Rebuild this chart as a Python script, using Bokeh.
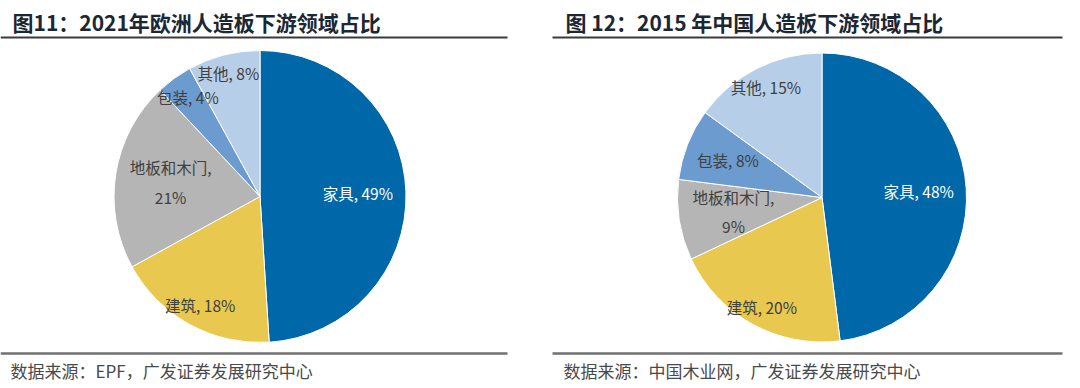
import math
from bokeh.plotting import figure
from bokeh.models import Range1d
from bokeh.core.properties import value
from bokeh.embed import file_html
from bokeh.resources import INLINE

# ---- data ----
categories = ["家具", "建筑", "地板和木门", "包装", "其他"]
eu_2021 = [49, 18, 21, 4, 8]
cn_2015 = [48, 20, 9, 8, 15]
titles = ["图11：2021年欧洲人造板下游领域占比", "图 12：2015 年中国人造板下游领域占比"]
sources = ["数据来源：EPF，广发证券发展研究中心", "数据来源：中国木业网，广发证券发展研究中心"]

# ---- styles / layout (pixel space of the page) ----
colors = ["#0068A8", "#E8C84F", "#B5B5B5", "#6B9BCF", "#B7CEE8"]
label_colors = ["white", "#404040", "#404040", "#404040", "#404040"]
FONT = "Noto Sans CJK SC"
W, H = 1072, 388
PAGE_H = 388

def py(y):  # convert screenshot pixel y to data y
    return PAGE_H - y

p = figure(width=W, height=H, output_backend="svg", toolbar_location=None,
           x_range=Range1d(0, W), y_range=Range1d(PAGE_H - H, PAGE_H),
           min_border=0)
p.axis.visible = False
p.grid.visible = False
p.outline_line_color = None
p.background_fill_color = "white"
p.border_fill_color = "white"

panels = [
    dict(vals=eu_2021, cx=259.5, cy=196, r=146, frac=[0.67, 0.85, 0.62, 0.84, 0.87],
         tx=12, rule=(0, 507)),
    dict(vals=cn_2015, cx=821.5, cy=197, r=144.5, frac=[0.67, 0.865, 0.62, 0.70, 0.855],
         tx=565, rule=(552, 1062)),
]

for i, pan in enumerate(panels):
    vals = pan["vals"]
    tot = float(sum(vals))
    starts, ends, lx, ly, texts = [], [], [], [], []
    cum = 0.0
    for j, v in enumerate(vals):
        a0 = math.pi / 2 - cum / tot * 2 * math.pi
        cum += v
        a1 = math.pi / 2 - cum / tot * 2 * math.pi
        starts.append(a0)
        ends.append(a1)
        mid = (a0 + a1) / 2
        rr = pan["r"] * pan["frac"][j]
        lx.append(pan["cx"] + rr * math.cos(mid))
        ly.append(py(pan["cy"]) + rr * math.sin(mid))
        name = categories[j]
        if name == "地板和木门":
            texts.append(f"{name},\n{v}%")
        else:
            texts.append(f"{name}, {v}%")
    p.wedge(x=pan["cx"], y=py(pan["cy"]), radius=pan["r"], start_angle=starts, end_angle=ends,
            direction="clock", fill_color=colors, line_color="white", line_width=1)
    p.text(x=lx, y=ly, text=texts, text_align="center", text_baseline="middle",
           text_font=value(FONT), text_font_size="15.5px", text_color=label_colors,
           text_line_height=1.35)
    # title
    p.text(x=[pan["tx"]], y=[py(21)], text=[titles[i]], text_align="left", text_baseline="middle",
           text_font=value(FONT), text_font_style="bold", text_font_size="21px",
           text_color="#1B2733")
    # rules
    x0, x1 = pan["rule"]
    p.segment(x0=[x0], y0=[py(37)], x1=[x1], y1=[py(37)], line_color="#3A3A3A", line_width=2)
    p.segment(x0=[x0], y0=[py(353)], x1=[x1], y1=[py(353)], line_color="#707070", line_width=2.5)
    # source
    p.text(x=[pan["tx"] - 2], y=[py(370)], text=[sources[i]], text_align="left", text_baseline="middle",
           text_font=value(FONT), text_font_size="17px", text_color="#4A4A4A")

open("out.html", "w").write(file_html(p, INLINE))
